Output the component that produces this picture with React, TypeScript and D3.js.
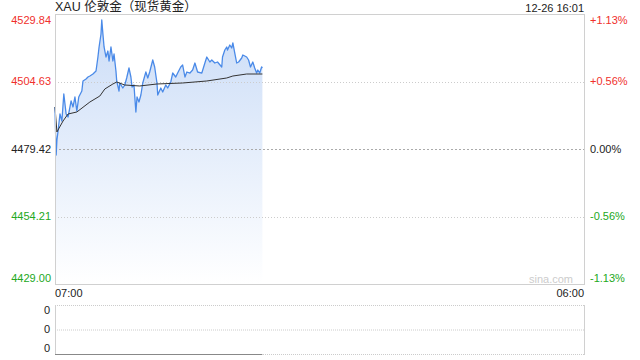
import React from "react";
import * as d3 from "d3";

const title = "XAU 伦敦金（现货黄金）";
const stamp = "12-26 16:01";
const xLabels = ["07:00", "06:00"];
const sessionMinutes = 1380;

const priceMinutes = [0,1,3,5,8,13,18,23,29,34,42,47,52,57,62,70,73,81,86,91,99,107,112,115,120,122,125,128,133,138,141,146,151,154,159,161,167,169,177,182,187,193,198,201,206,211,214,219,224,229,237,242,247,255,260,266,268,276,281,289,294,302,307,315,320,328,333,339,344,352,359,365,372,383,391,396,404,409,417,424,435,437,443,448,450,456,461,464,469,474,479,487,490,500,505,510,516,521,526,529,534,539,541];
const priceValues = [4495.11,4488.38,4477.18,4482.78,4486.14,4492.49,4489.88,4499.96,4492.49,4491.37,4497.35,4495.11,4498.84,4493.61,4498.84,4501.08,4504.82,4505.56,4506.31,4506.68,4507.43,4508.55,4513.78,4517.52,4522.37,4527.60,4522.37,4517.52,4513.78,4516.02,4512.29,4517.52,4512.29,4514.90,4508.55,4504.82,4501.08,4504.07,4502.20,4503.32,4505.94,4509.67,4506.31,4502.58,4503.32,4493.24,4498.84,4496.97,4499.59,4504.07,4508.18,4505.94,4508.18,4512.66,4510.05,4504.07,4499.59,4502.20,4500.71,4503.32,4502.20,4504.44,4507.80,4506.31,4507.80,4510.05,4510.79,4506.31,4508.18,4507.80,4508.93,4511.54,4508.18,4507.80,4511.54,4513.78,4511.91,4512.66,4511.54,4511.91,4510.05,4513.78,4516.39,4517.52,4516.39,4518.26,4517.14,4519.01,4515.27,4511.54,4511.91,4513.41,4514.53,4513.78,4512.66,4510.05,4511.91,4509.67,4507.80,4508.93,4507.80,4510.05,4509.67];

const avgMinutes = [0,5,21,34,57,91,117,130,151,161,182,221,266,333,396,448,464,500,541];
const avgValues = [4495.11,4485.77,4489.88,4492.49,4493.24,4496.97,4499.21,4501.83,4503.70,4504.44,4503.32,4502.95,4503.70,4504.07,4504.82,4505.94,4506.68,4507.43,4507.43];

const yTicks = [4529.84, 4504.63, 4479.42, 4454.21, 4429.0];
const pctLabels = ["+1.13%", "+0.56%", "0.00%", "-0.56%", "-1.13%"];
const volumeLabels = ["0", "0", "0"];

const RED = "#f0302c";
const GREEN = "#22a822";
const FONT = "'Liberation Sans', Arial, 'Noto Sans CJK SC', sans-serif";

export default function App() {
  const left = 55, right = 584, top = 14, bottom = 284;
  const x = d3.scaleLinear().domain([0, sessionMinutes]).range([left, right]);
  const y = d3.scaleLinear().domain([yTicks[4], yTicks[0]]).range([bottom, top]);

  const price = priceMinutes.map((m, i) => [m, priceValues[i]] as [number, number]);
  const avg = avgMinutes.map((m, i) => [m, avgValues[i]] as [number, number]);

  const line = d3.line<[number, number]>().x(d => x(d[0])).y(d => y(d[1]));
  const area = d3.area<[number, number]>().x(d => x(d[0])).y0(bottom).y1(d => y(d[1]));

  const lastX = x(priceMinutes[priceMinutes.length - 1]);
  const vTop = 305, vBottom = 354;
  const vY = d3.scaleLinear().domain([0, 2]).range([vTop, vBottom]);
  const vLabelY = [310, 329, 348];

  const labelY = (i: number) => (i === 0 ? y(yTicks[0]) + 6 : i === 4 ? y(yTicks[4]) - 6 : y(yTicks[i]));
  const colorFor = (i: number) => (i < 2 ? RED : i === 2 ? "#222" : GREEN);

  return (
    <svg width={640} height={360} style={{ position: "fixed", left: 0, top: 0, background: "#fff" }} fontFamily={FONT}>
      <defs>
        <linearGradient id="fillGrad" gradientUnits="userSpaceOnUse" x1={0} y1={top} x2={0} y2={bottom}>
          <stop offset="0%" stopColor="#cadcf7" />
          <stop offset="100%" stopColor="#ffffff" />
        </linearGradient>
      </defs>

      <text x={left} y={11} fontSize={12.5} fill="#222">{title}</text>
      <text x={right} y={12} fontSize={11} fill="#222" textAnchor="end">{stamp}</text>

      <path d={area(price) || ""} fill="url(#fillGrad)" />

      {yTicks.slice(1, 4).map((t, i) => (
        <line key={t} x1={left} x2={right} y1={Math.round(y(t)) + 0.5} y2={Math.round(y(t)) + 0.5}
          stroke={i === 1 ? "#aaa" : "#ccc"} strokeDasharray={i === 1 ? "2,2" : "1,2"} />
      ))}

      <path d={line(price) || ""} fill="none" stroke="#4a8ae8" strokeWidth={1.3} strokeLinejoin="round" />
      <path d={line(avg) || ""} fill="none" stroke="#333" strokeWidth={1} />

      <rect x={left + 0.5} y={top + 0.5} width={right - left} height={bottom - top} fill="none" stroke="#d0d0d0" />

      {yTicks.map((t, i) => (
        <text key={"l" + i} x={51} y={labelY(i)} dy="0.35em" fontSize={11} textAnchor="end" fill={colorFor(i)}>
          {t.toFixed(2)}
        </text>
      ))}
      {pctLabels.map((p, i) => (
        <text key={"r" + i} x={590} y={labelY(i)} dy="0.35em" fontSize={11} fill={colorFor(i)}>{p}</text>
      ))}

      <text x={573} y={279} dy="0.35em" fontSize={11} fill="#ccc" textAnchor="end">sina.com</text>

      <text x={left} y={293} dy="0.35em" fontSize={11} fill="#222">{xLabels[0]}</text>
      <text x={right} y={293} dy="0.35em" fontSize={11} fill="#222" textAnchor="end">{xLabels[1]}</text>

      {[0, 1, 2].map(k => (
        <line key={"v" + k} x1={left} x2={right} y1={vY(k) + 0.5} y2={vY(k) + 0.5} stroke="#ccc" strokeDasharray="1,1" />
      ))}
      <line x1={left + 0.5} x2={left + 0.5} y1={vTop} y2={vBottom + 1} stroke="#d0d0d0" />
      <line x1={right + 0.5} x2={right + 0.5} y1={vTop} y2={vBottom + 1} stroke="#d0d0d0" />
      <line x1={left} x2={lastX} y1={vBottom + 0.5} y2={vBottom + 0.5} stroke="#888" />
      {volumeLabels.map((v, i) => (
        <text key={"vl" + i} x={50} y={vLabelY[i]} dy="0.35em" fontSize={11} textAnchor="end" fill="#222">{v}</text>
      ))}
    </svg>
  );
}
